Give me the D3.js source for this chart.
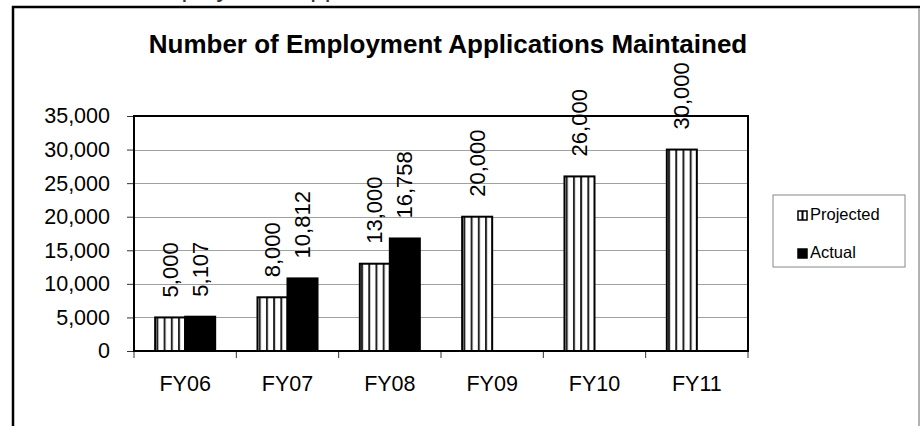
<!DOCTYPE html>
<html>
<head>
<meta charset="utf-8">
<script src="https://cdn.jsdelivr.net/npm/d3@7"></script>
<style>
  html, body { margin: 0; padding: 0; background: #fff; }
  svg { display: block; font-family: Arial, "Liberation Sans", sans-serif; }
</style>
</head>
<body>
<svg id="chart" width="920" height="426"></svg>
<script>
// Fiscal years and the two series shown for each
const categories = ["FY06", "FY07", "FY08", "FY09", "FY10", "FY11"];
const seriesNames = ["Projected", "Actual"];
const projected = [5000, 8000, 13000, 20000, 26000, 30000];
const actual = [5107, 10812, 16758, null, null, null];
const yTicks = [0, 5000, 10000, 15000, 20000, 25000, 30000, 35000];
const title = "Number of Employment Applications Maintained";

const svg = d3.select("#chart");
const fmt = d3.format(",");

const plot = { left: 134, right: 748, top: 116, bottom: 351 };

const x = d3.scaleBand().domain(categories).range([plot.left, plot.right]).padding(0);
const xSub = d3.scaleBand().domain(seriesNames).range([0, x.bandwidth()]).paddingInner(0).paddingOuter(0.705);
const y = d3.scaleLinear().domain([0, 35000]).range([plot.bottom, plot.top]);

// striped fill for the projected bars
const defs = svg.append("defs");
const pat = defs.append("pattern")
  .attr("id", "stripes")
  .attr("patternUnits", "userSpaceOnUse")
  .attr("width", 7.2).attr("height", 10)
  .attr("x", 0.8);
pat.append("rect").attr("width", 7.2).attr("height", 10).attr("fill", "#fff");
pat.append("rect").attr("x", 0).attr("width", 2).attr("height", 10).attr("fill", "#222");

// caption above the frame, mostly cut off by the top edge
svg.append("text")
  .attr("x", 14).attr("y", -3)
  .attr("font-size", 26).attr("fill", "#333")
  .text(title);

// chart frame
svg.append("line").attr("x1", 13).attr("x2", 13).attr("y1", 6).attr("y2", 426)
  .attr("stroke", "#000").attr("stroke-width", 2.5);
svg.append("line").attr("x1", 12).attr("x2", 920).attr("y1", 7).attr("y2", 7)
  .attr("stroke", "#000").attr("stroke-width", 2.5);
svg.append("line").attr("x1", 919).attr("x2", 919).attr("y1", 8).attr("y2", 426)
  .attr("stroke", "#999").attr("stroke-width", 1.5);

// title
svg.append("text")
  .attr("x", 448).attr("y", 53)
  .attr("text-anchor", "middle")
  .attr("font-size", 26).attr("font-weight", "bold")
  .text(title);

// horizontal gridlines
svg.append("g").selectAll("line")
  .data(yTicks.filter(t => t > 0 && t < 35000))
  .join("line")
  .attr("x1", plot.left).attr("x2", plot.right)
  .attr("y1", d => Math.round(y(d)) + 0.5).attr("y2", d => Math.round(y(d)) + 0.5)
  .attr("stroke", "#a0a0a0").attr("stroke-width", 1);

// y axis
const yAxis = svg.append("g")
  .attr("transform", `translate(${plot.left},0)`)
  .call(d3.axisLeft(y).tickValues(yTicks).tickFormat(fmt).tickSize(7).tickPadding(17));
yAxis.select(".domain").remove();
yAxis.selectAll(".tick line").attr("stroke", "#333");
yAxis.selectAll(".tick text").attr("font-size", 21.5).attr("fill", "#000")
  .attr("font-family", "Arial, 'Liberation Sans', sans-serif");

// x axis
const xAxis = svg.append("g")
  .attr("transform", `translate(0,${plot.bottom})`)
  .call(d3.axisBottom(x).tickSize(0).tickPadding(25));
xAxis.select(".domain").remove();
xAxis.selectAll(".tick text").attr("font-size", 21.5).attr("fill", "#000")
  .attr("font-family", "Arial, 'Liberation Sans', sans-serif");
svg.append("g").selectAll("line")
  .data(d3.range(categories.length + 1))
  .join("line")
  .attr("x1", i => plot.left + i * x.step()).attr("x2", i => plot.left + i * x.step())
  .attr("y1", plot.bottom).attr("y2", plot.bottom + 7)
  .attr("stroke", "#333").attr("stroke-width", 1);

// bars
const rows = categories.map((c, i) => ({ cat: c, vals: [
  { s: "Projected", v: projected[i] },
  { s: "Actual", v: actual[i] }
].filter(d => d.v != null) }));

const groups = svg.append("g").selectAll("g")
  .data(rows).join("g")
  .attr("transform", d => `translate(${x(d.cat)},0)`);

groups.selectAll("rect")
  .data(d => d.vals).join("rect")
  .attr("x", d => xSub(d.s))
  .attr("width", xSub.bandwidth())
  .attr("y", d => y(d.v))
  .attr("height", d => y(0) - y(d.v))
  .attr("fill", d => d.s === "Projected" ? "url(#stripes)" : "#000")
  .attr("stroke", "#000").attr("stroke-width", 2);

// value labels, rotated above each bar
groups.selectAll("text.val")
  .data(d => d.vals).join("text")
  .attr("class", "val")
  .attr("font-size", 22)
  .attr("text-anchor", "start")
  .attr("transform", d => `translate(${xSub(d.s) + xSub.bandwidth() / 2 + 7.5},${y(d.v) - 20}) rotate(-90)`)
  .text(d => fmt(d.v));

// plot border (top, right, left, bottom)
svg.append("path")
  .attr("d", `M${plot.left},${plot.bottom} V${plot.top} H${plot.right} V${plot.bottom} Z`)
  .attr("fill", "none").attr("stroke", "#000").attr("stroke-width", 2);

// legend
const lg = svg.append("g").attr("transform", "translate(773,195)");
lg.append("rect").attr("width", 132).attr("height", 72)
  .attr("fill", "#fff").attr("stroke", "#888").attr("stroke-width", 1);
const items = lg.selectAll("g.item").data(seriesNames).join("g")
  .attr("class", "item")
  .attr("transform", (d, i) => `translate(25,${16 + i * 38})`);
items.append("rect").attr("width", 9).attr("height", 9)
  .attr("fill", d => d === "Projected" ? "#fff" : "#000")
  .attr("stroke", "#000").attr("stroke-width", 1.5);
items.filter(d => d === "Projected").append("rect")
  .attr("x", 3.5).attr("width", 2).attr("height", 9).attr("fill", "#000");
items.append("text").attr("x", 12).attr("y", 9)
  .attr("font-size", 16.5).text(d => d);
</script>
</body>
</html>
